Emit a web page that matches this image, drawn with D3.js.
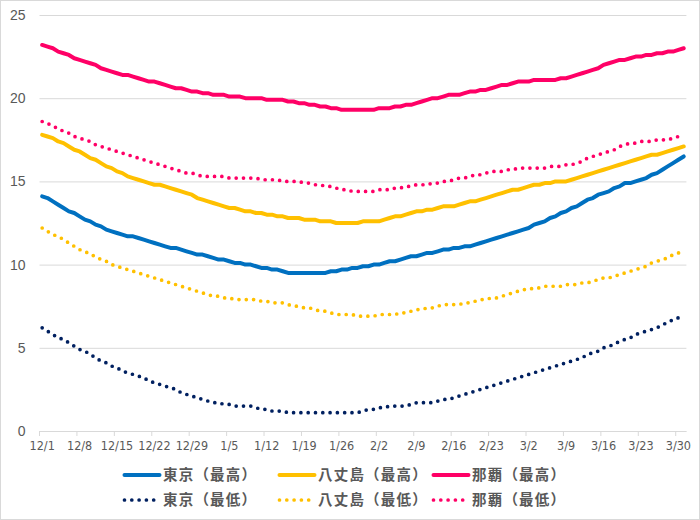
<!DOCTYPE html>
<html>
<head>
<meta charset="utf-8">
<script src="https://cdn.jsdelivr.net/npm/d3@7"></script>
<style>
  body { margin: 0; background: #fff; }
  svg { display: block; }
</style>
</head>
<body>
<script>
// Categorias (dias de 12/1 a 3/31)
const months = [12, 1, 2, 3];
const monthDays = [31, 31, 28, 31];
const tickLabels = ["12/1", "12/8", "12/15", "12/22", "12/29", "1/5", "1/12", "1/19", "1/26",
  "2/2", "2/9", "2/16", "2/23", "3/2", "3/9", "3/16", "3/23", "3/30"];
const yTicks = [0, 5, 10, 15, 20, 25];

// Series (um valor por dia)
const tokyoMax = [
  14.1,14.0,13.8,13.6,13.4,13.2,13.1,12.9,12.7,12.6,12.4,12.3,12.1,12.0,11.9,11.8,11.7,11.7,11.6,11.5,11.4,11.3,11.2,11.1,11.0,11.0,10.9,10.8,10.7,10.6,10.6,
  10.5,10.4,10.3,10.3,10.2,10.1,10.1,10.0,10.0,9.9,9.8,9.8,9.7,9.7,9.6,9.5,9.5,9.5,9.5,9.5,9.5,9.5,9.5,9.6,9.6,9.7,9.7,9.8,9.8,9.9,9.9,
  10.0,10.0,10.1,10.2,10.2,10.3,10.4,10.5,10.5,10.6,10.7,10.7,10.8,10.9,10.9,11.0,11.0,11.1,11.1,11.2,11.3,11.4,11.5,11.6,11.7,11.8,11.9,12.0,
  12.1,12.2,12.4,12.5,12.6,12.8,12.9,13.1,13.2,13.4,13.5,13.7,13.9,14.0,14.2,14.3,14.4,14.6,14.7,14.9,14.9,15.0,15.1,15.2,15.4,15.5,15.7,15.9,16.1,16.3,16.5
];
const hachijoMax = [
  17.8,17.7,17.6,17.4,17.3,17.1,16.9,16.8,16.6,16.4,16.3,16.1,15.9,15.8,15.6,15.5,15.3,15.2,15.1,15.0,14.9,14.8,14.8,14.7,14.6,14.5,14.4,14.3,14.2,14.0,13.9,
  13.8,13.7,13.6,13.5,13.4,13.4,13.3,13.2,13.2,13.1,13.1,13.0,13.0,12.9,12.9,12.8,12.8,12.8,12.7,12.7,12.7,12.6,12.6,12.6,12.5,12.5,12.5,12.5,12.5,12.6,12.6,
  12.6,12.6,12.7,12.8,12.9,12.9,13.0,13.1,13.2,13.2,13.3,13.3,13.4,13.5,13.5,13.5,13.6,13.7,13.8,13.8,13.9,14.0,14.1,14.2,14.3,14.4,14.5,14.5,
  14.6,14.7,14.8,14.8,14.9,14.9,15.0,15.0,15.0,15.1,15.2,15.3,15.4,15.5,15.6,15.7,15.8,15.9,16.0,16.1,16.2,16.3,16.4,16.5,16.6,16.6,16.7,16.8,16.9,17.0,17.1
];
const nahaMax = [
  23.2,23.1,23.0,22.8,22.7,22.6,22.4,22.3,22.2,22.1,22.0,21.8,21.7,21.6,21.5,21.4,21.4,21.3,21.2,21.1,21.0,21.0,20.9,20.8,20.7,20.6,20.6,20.5,20.4,20.4,20.3,
  20.3,20.2,20.2,20.2,20.1,20.1,20.1,20.0,20.0,20.0,20.0,19.9,19.9,19.9,19.9,19.8,19.8,19.7,19.7,19.6,19.6,19.5,19.5,19.4,19.4,19.3,19.3,19.3,19.3,19.3,19.3,
  19.3,19.4,19.4,19.4,19.5,19.5,19.6,19.6,19.7,19.8,19.9,20.0,20.0,20.1,20.2,20.2,20.2,20.3,20.4,20.4,20.5,20.5,20.6,20.7,20.8,20.8,20.9,21.0,
  21.0,21.0,21.1,21.1,21.1,21.1,21.1,21.2,21.2,21.3,21.4,21.5,21.6,21.7,21.8,22.0,22.1,22.2,22.3,22.3,22.4,22.5,22.5,22.6,22.6,22.7,22.7,22.8,22.8,22.9,23.0
];
const tokyoMin = [
  6.2,6.0,5.8,5.6,5.5,5.3,5.1,4.9,4.8,4.6,4.4,4.2,4.1,3.9,3.8,3.6,3.5,3.4,3.3,3.2,3.0,2.9,2.8,2.7,2.6,2.5,2.3,2.2,2.1,2.0,1.9,
  1.8,1.7,1.7,1.6,1.6,1.5,1.5,1.5,1.5,1.4,1.3,1.3,1.2,1.2,1.2,1.1,1.1,1.1,1.1,1.1,1.1,1.1,1.1,1.1,1.1,1.1,1.1,1.1,1.1,1.2,1.3,
  1.3,1.4,1.4,1.5,1.5,1.5,1.5,1.6,1.7,1.7,1.7,1.7,1.8,1.9,1.9,2.0,2.1,2.2,2.3,2.4,2.5,2.6,2.7,2.8,2.9,3.0,3.1,3.2,
  3.3,3.4,3.5,3.6,3.7,3.8,3.9,4.0,4.1,4.2,4.3,4.4,4.6,4.7,4.8,5.0,5.1,5.2,5.4,5.5,5.6,5.8,5.9,6.0,6.1,6.2,6.4,6.5,6.7,6.8,7.0
];
const hachijoMin = [
  12.2,12.0,11.8,11.7,11.5,11.3,11.1,10.9,10.8,10.6,10.5,10.3,10.2,10.0,9.9,9.8,9.7,9.6,9.5,9.4,9.3,9.2,9.1,9.0,8.9,8.8,8.7,8.6,8.5,8.4,8.3,
  8.2,8.1,8.1,8.0,8.0,7.9,7.9,7.9,7.9,7.9,7.8,7.8,7.7,7.7,7.7,7.6,7.5,7.5,7.4,7.4,7.3,7.2,7.2,7.1,7.0,7.0,7.0,7.0,6.9,6.9,6.9,
  6.9,7.0,7.0,7.0,7.0,7.1,7.1,7.2,7.3,7.3,7.4,7.4,7.5,7.6,7.6,7.6,7.6,7.7,7.7,7.8,7.9,7.9,8.0,8.0,8.1,8.2,8.3,8.4,
  8.5,8.5,8.6,8.6,8.7,8.7,8.7,8.7,8.8,8.8,8.8,8.9,8.9,9.0,9.1,9.2,9.2,9.3,9.4,9.5,9.6,9.7,9.8,9.9,10.1,10.2,10.3,10.4,10.6,10.7,10.8
];
const nahaMin = [
  18.6,18.5,18.3,18.2,18.0,17.9,17.7,17.6,17.5,17.4,17.2,17.1,17.0,16.9,16.8,16.7,16.6,16.5,16.4,16.3,16.2,16.1,16.0,15.9,15.8,15.7,15.6,15.5,15.5,15.4,15.3,
  15.3,15.3,15.3,15.3,15.2,15.2,15.2,15.2,15.2,15.2,15.1,15.1,15.1,15.1,15.0,15.0,15.0,15.0,14.9,14.9,14.8,14.8,14.7,14.7,14.6,14.5,14.5,14.4,14.4,14.4,14.4,
  14.4,14.5,14.5,14.5,14.6,14.6,14.7,14.7,14.8,14.8,14.8,14.9,14.9,15.0,15.0,15.1,15.2,15.2,15.3,15.4,15.4,15.5,15.6,15.6,15.6,15.7,15.7,15.8,
  15.8,15.8,15.8,15.8,15.8,15.9,15.9,15.9,16.0,16.0,16.1,16.2,16.4,16.5,16.6,16.7,16.8,16.9,17.1,17.2,17.3,17.3,17.4,17.4,17.4,17.5,17.5,17.5,17.6,17.7,17.7
];

const seriesNames = ["東京（最高）", "八丈島（最高）", "那覇（最高）", "東京（最低）", "八丈島（最低）", "那覇（最低）"];
const seriesData = [tokyoMax, hachijoMax, nahaMax, tokyoMin, hachijoMin, nahaMin];
const seriesColors = ["#0070C0", "#FFC000", "#FF0066", "#002060", "#FFC000", "#FF0066"];
const seriesDotted = [false, false, false, true, true, true];

// Monta a lista de dias
var days = [];
months.forEach((m, k) => {
  for (var d = 1; d <= monthDays[k]; d++) days.push(m + "/" + d);
});

// Dimensoes
const W = 700, H = 520;
const plot = {left: 39.5, right: 686.4, top: 15, bottom: 431};
const gray = "#595959";
const gridColor = "#d9d9d9";

const svg = d3.select("body").append("svg")
  .attr("width", W)
  .attr("height", H);

svg.append("rect")
  .attr("x", 0.5).attr("y", 0.5)
  .attr("width", W - 1).attr("height", H - 1)
  .attr("fill", "#fff")
  .attr("stroke", gridColor);

// Escalas
const x = d3.scaleBand()
  .domain(d3.range(days.length))
  .range([plot.left, plot.right])
  .padding(0);
const bw = x.bandwidth();
const y = d3.scaleLinear().domain([0, 25]).range([plot.bottom, plot.top]);

// Linhas de grade + rotulos do eixo Y
const yAxis = svg.append("g")
  .attr("transform", "translate(" + plot.left + ",0)")
  .call(d3.axisLeft(y).tickValues(yTicks).tickSize(-(plot.right - plot.left)).tickPadding(14));
yAxis.select(".domain").remove();
yAxis.selectAll(".tick line").attr("stroke", gridColor).attr("stroke-width", 1);
yAxis.selectAll(".tick text")
  .attr("fill", gray)
  .style("font-family", "'Liberation Sans', Arial, sans-serif")
  .style("font-size", "14px");

// Eixo X: marcas nas bordas das categorias, rotulos no centro
const tickIdx = tickLabels.map((t, i) => i * 7);
const xAxis = svg.append("g")
  .attr("transform", "translate(0," + plot.bottom + ")")
  .call(d3.axisBottom(x).tickValues(tickIdx).tickSize(5).tickSizeOuter(0).tickPadding(5)
    .tickFormat((d, i) => tickLabels[i]));
xAxis.select(".domain").attr("stroke", gridColor).attr("d", "M" + plot.left + ",0.5H" + plot.right);
xAxis.selectAll(".tick line")
  .attr("stroke", gridColor)
  .attr("x1", -bw / 2).attr("x2", -bw / 2);
xAxis.selectAll(".tick text")
  .attr("fill", gray)
  .style("font-family", "'Liberation Sans Narrow', 'DejaVu Sans Condensed', sans-serif")
  .style("font-stretch", "condensed")
  .style("font-size", "12.5px");

// Series
const line = d3.line()
  .x((d, i) => x(i) + bw / 2)
  .y(d => y(d));

seriesData.forEach((vals, s) => {
  svg.append("path")
    .datum(vals)
    .attr("fill", "none")
    .attr("stroke", seriesColors[s])
    .attr("stroke-width", seriesDotted[s] ? 3.7 : 4)
    .attr("stroke-linejoin", "round")
    .attr("stroke-linecap", "round")
    .attr("stroke-dasharray", seriesDotted[s] ? "0 7.3" : null)
    .attr("d", line);
});

// Legenda
const legX = [123, 278, 432];
const legY = [475, 500];
seriesNames.forEach((name, s) => {
  const lx = legX[s % 3], ly = legY[Math.floor(s / 3)];
  const g = svg.append("g").attr("transform", "translate(" + lx + "," + ly + ")");
  g.append("line")
    .attr("x1", 1.5).attr("x2", 36.5)
    .attr("stroke", seriesColors[s])
    .attr("stroke-width", seriesDotted[s] ? 3.7 : 4)
    .attr("stroke-linecap", "round")
    .attr("stroke-dasharray", seriesDotted[s] ? "0 7.3" : null);
  g.append("text")
    .attr("x", 40)
    .attr("dy", "0.36em")
    .attr("fill", gray)
    .style("font-family", "'Noto Sans CJK JP', sans-serif")
    .style("font-weight", "bold")
    .style("font-size", "14.5px")
    .style("letter-spacing", "1.2px")
    .text(name);
});
</script>
</body>
</html>
